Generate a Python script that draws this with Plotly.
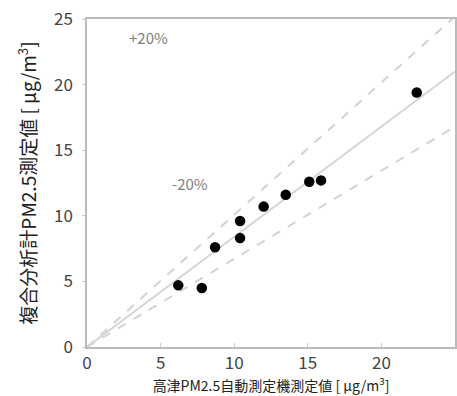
import plotly.graph_objects as go

# data
takatsu = [6.2, 7.8, 8.7, 10.4, 10.4, 12.0, 13.5, 15.1, 15.9, 22.4]
fukugo = [4.7, 4.5, 7.6, 8.3, 9.6, 10.7, 11.6, 12.6, 12.7, 19.4]
reg_slope = 0.84
upper_slope = 1.008
lower_slope = 0.672
x_line = [0, 25]
tick_vals = [0, 5, 10, 15, 20, 25]
label_plus = "+20%"
label_minus = "-20%"
x_title = "高津PM2.5自動測定機測定値 [ μg/m<sup>3</sup>]"
y_title = "複合分析計PM2.5測定値 [ μg/m<sup>3</sup>]"

FONT = "Noto Sans CJK JP"

fig = go.Figure()
fig.add_trace(go.Scatter(x=x_line, y=[upper_slope * v for v in x_line], mode="lines",
                         line=dict(color="#d2d2d2", width=2, dash="dash"), hoverinfo="skip"))
fig.add_trace(go.Scatter(x=x_line, y=[lower_slope * v for v in x_line], mode="lines",
                         line=dict(color="#d2d2d2", width=2, dash="dash"), hoverinfo="skip"))
fig.add_trace(go.Scatter(x=x_line, y=[reg_slope * v for v in x_line], mode="lines",
                         line=dict(color="#d6d6d6", width=2), hoverinfo="skip"))
fig.add_trace(go.Scatter(x=takatsu, y=fukugo, mode="markers",
                         marker=dict(color="black", size=10.5)))

fig.add_annotation(x=4.2, y=23.6, text=label_plus, showarrow=False,
                   font=dict(family=FONT, size=15, color="#808080"))
fig.add_annotation(x=7.0, y=12.5, text=label_minus, showarrow=False,
                   font=dict(family=FONT, size=15, color="#808080"))

fig.update_layout(
    width=457, height=396,
    margin=dict(l=87, r=2, t=19, b=49),
    plot_bgcolor="white", paper_bgcolor="white",
    showlegend=False,
    font=dict(family=FONT, color="#333333"),
    xaxis=dict(range=[0, 25], tickvals=tick_vals, showgrid=False, zeroline=False,
               automargin=False,
               showline=True, linecolor="#bbbbbb", linewidth=1.5, mirror=True,
               ticks="inside", ticklen=4, tickcolor="#cccccc",
               tickfont=dict(family=FONT, size=17, color="#444444"),
               title=dict(text=x_title, font=dict(family=FONT, size=14, color="#222222"), standoff=0)),
    yaxis=dict(range=[0, 25], tickvals=tick_vals, showgrid=False, zeroline=False,
               automargin=False, ticklabelstandoff=6,
               showline=True, linecolor="#bbbbbb", linewidth=1.5, mirror=True,
               ticks="outside", ticklen=3, tickcolor="#cccccc",
               tickfont=dict(family=FONT, size=17, color="#444444"),
               title=dict(text=y_title, font=dict(family=FONT, size=19, color="#222222"), standoff=12)),
)

# remove the browser's default 8px body margin so the figure sits at the page corner
fig.write_html("out.html", config={"displayModeBar": False},
               post_script="document.body.style.margin='0';")
